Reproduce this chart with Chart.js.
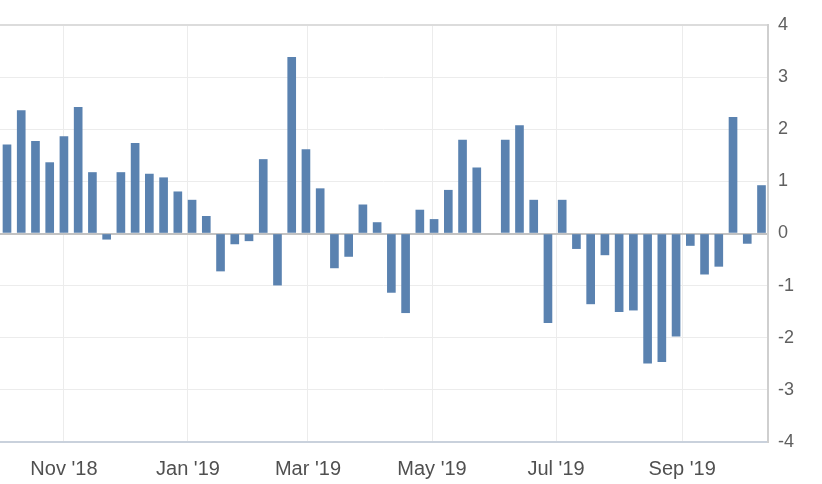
<!DOCTYPE html>
<html>
<head>
<meta charset="utf-8">
<script src="https://cdn.jsdelivr.net/npm/chart.js@4/dist/chart.umd.min.js"></script>
<style>
  html, body { margin: 0; padding: 0; background: #fff; }
  #wrap { width: 822px; height: 484px; }
</style>
</head>
<body>
<div id="wrap"><canvas id="chart" width="822" height="484"></canvas></div>
<script>
// weekly observations
const weeks = [
    '2018-10-04', '2018-10-11', '2018-10-18', '2018-10-25', '2018-11-01', '2018-11-08',
    '2018-11-15', '2018-11-22', '2018-11-29', '2018-12-06', '2018-12-13', '2018-12-20',
    '2018-12-27', '2019-01-03', '2019-01-10', '2019-01-17', '2019-01-24', '2019-01-31',
    '2019-02-07', '2019-02-14', '2019-02-21', '2019-02-28', '2019-03-07', '2019-03-14',
    '2019-03-21', '2019-03-28', '2019-04-04', '2019-04-11', '2019-04-18', '2019-04-25',
    '2019-05-02', '2019-05-09', '2019-05-16', '2019-05-23', '2019-05-30', '2019-06-06',
    '2019-06-13', '2019-06-20', '2019-06-27', '2019-07-04', '2019-07-11', '2019-07-18',
    '2019-07-25', '2019-08-01', '2019-08-08', '2019-08-15', '2019-08-22', '2019-08-29',
    '2019-09-05', '2019-09-12', '2019-09-19', '2019-09-26', '2019-10-03', '2019-10-10'
];

const values = [
    1.70, 2.36, 1.77, 1.36, 1.86, 2.42,
    1.17, -0.11, 1.17, 1.73, 1.14, 1.07,
    0.80, 0.64, 0.33, -0.72, -0.20, -0.14,
    1.42, -0.99, 3.38, 1.61, 0.86, -0.66,
    -0.44, 0.55, 0.21, -1.13, -1.52, 0.45,
    0.27, 0.83, 1.79, 1.26, null, 1.79,
    2.07, 0.64, -1.71, 0.64, -0.29, -1.35,
    -0.41, -1.50, -1.47, -2.49, -2.46, -1.97,
    -0.23, -0.78, -0.63, 2.23, -0.19, 0.92
];

const tickDates = ['2018-11-01', '2019-01-01', '2019-03-01', '2019-05-01', '2019-07-01', '2019-09-01'];
const tickLabels = ["Nov '18", "Jan '19", "Mar '19", "May '19", "Jul '19", "Sep '19"];

const yMin = -4;
const yMax = 4;

const DAY = 86400000;
const origin = Date.parse(weeks[0]);
const toDay = d => (Date.parse(d) - origin) / DAY;

const points = weeks.map((w, i) => ({ x: toDay(w), y: values[i] }));
const tickDays = tickDates.map(toDay);

const barColor = '#5a82b0';
const font = "'Liberation Sans', Arial, sans-serif";

new Chart(document.getElementById('chart'), {
    type: 'bar',
    data: {
        datasets: [{
            data: points,
            backgroundColor: barColor,
            borderWidth: 0,
            barThickness: 8
        }]
    },
    options: {
        responsive: false,
        animation: false,
        layout: { padding: { top: 25, left: 0, right: 0, bottom: 0 } },
        plugins: {
            legend: { display: false },
            tooltip: { enabled: false }
        },
        scales: {
            x: {
                type: 'linear',
                offset: false,
                min: -3.44,
                max: 374.2,
                afterBuildTicks: scale => {
                    scale.ticks = tickDays.map(v => ({ value: v }));
                },
                afterFit: scale => { scale.height = 42; },
                grid: {
                    offset: false,
                    color: '#ececec',
                    lineWidth: 1,
                    drawTicks: false
                },
                border: { color: '#c9d1dc', width: 2 },
                ticks: {
                    autoSkip: false,
                    maxRotation: 0,
                    padding: 15,
                    color: '#505050',
                    font: { family: font, size: 20 },
                    callback: (value, index) => tickLabels[index]
                }
            },
            y: {
                position: 'right',
                min: yMin,
                max: yMax,
                afterFit: scale => { scale.width = 54; },
                grid: {
                    drawTicks: false,
                    color: ctx => {
                        const v = ctx.tick && ctx.tick.value;
                        if (v === 0) return '#c2c2c2';
                        if (v === yMax) return '#dcdcdc';
                        return '#ececec';
                    },
                    lineWidth: ctx => {
                        const v = ctx.tick && ctx.tick.value;
                        return (v === 0 || v === yMax) ? 2 : 1;
                    }
                },
                border: { color: '#cfcfcf', width: 2 },
                ticks: {
                    stepSize: 1,
                    padding: 10,
                    color: '#606060',
                    font: { family: font, size: 18 }
                }
            }
        }
    }
});
</script>
</body>
</html>
